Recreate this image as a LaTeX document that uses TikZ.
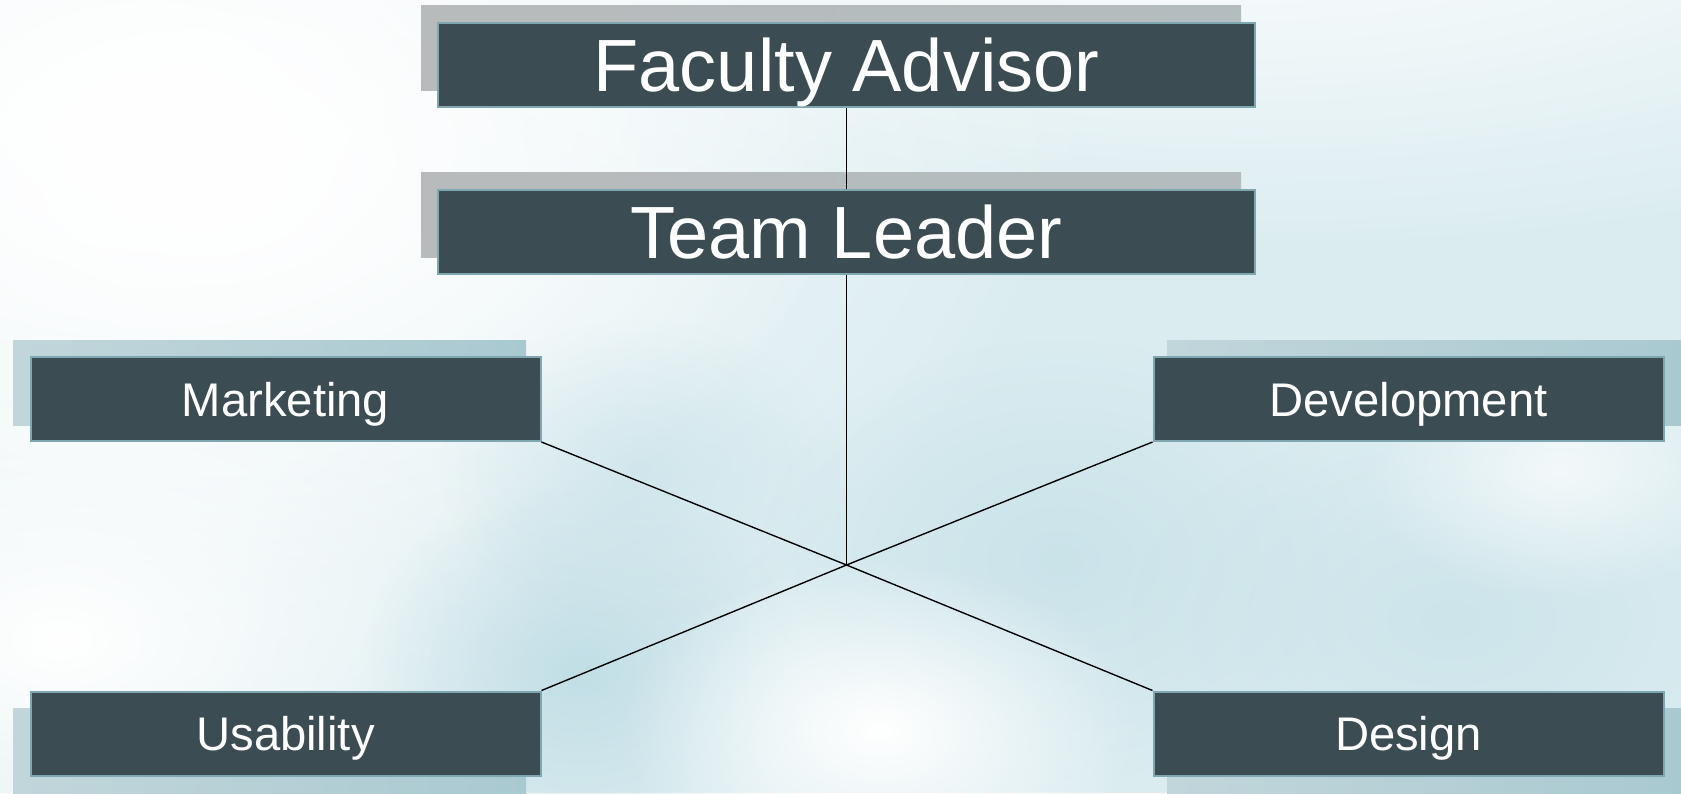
\documentclass[tikz,border=0pt]{standalone}
\usepackage{fontspec}
\setmainfont{Liberation Sans}
\usetikzlibrary{fadings}

\definecolor{bgbase}{HTML}{DAECF0}
\definecolor{bgdeep}{HTML}{BFDDE5}
\definecolor{boxfill}{HTML}{3B4C53}
\definecolor{boxline}{HTML}{7EA7B2}
\definecolor{shadegrayL}{HTML}{B8BBBC}
\definecolor{shadegrayR}{HTML}{B3BCBE}
\definecolor{shadeblueL}{HTML}{C1D6DB}
\definecolor{shadeblueR}{HTML}{A9C9D1}

% soft round spot used to paint the blurred backdrop
\tikzfading[name=softspot, inner color=transparent!0, outer color=transparent!100]

\tikzset{
  orgbox/.style={draw=boxline, line width=1pt, fill=boxfill, text=white,
    inner sep=0pt, text depth=0pt},
  bigbox/.style={orgbox, minimum width=408.5pt, minimum height=42pt,
    text height=26.6pt, font=\fontsize{37}{44}\selectfont},
  smallbox/.style={orgbox, minimum width=255pt, minimum height=42pt,
    text height=17pt, font=\fontsize{23.6}{28}\selectfont},
  topshadow/.style={left color=shadegrayL, right color=shadegrayR},
  sideshadow/.style={left color=shadeblueL, right color=shadeblueR},
  link/.style={black, line width=0.7pt},
  spot/.style={path fading=softspot}
}

\begin{document}
\begin{tikzpicture}[x=0.5pt, y=-0.5pt]
  \useasboundingbox (0,0) rectangle (1681,793);

  % backdrop
  \fill[bgbase] (0,0) rectangle (1681,793);
  \begin{scope}
    \clip (0,0) rectangle (1681,793);
    \fill[white, spot] (1250,-120) ellipse (1100 and 380);
    \fill[white, spot] (150,120) ellipse (950 and 620);
    \fill[white, spot] (200,170) ellipse (650 and 420);
    \fill[white, spot] (60,640) ellipse (520 and 330);
    \fill[bgdeep, spot, opacity=0.9] (580,670) ellipse (220 and 190);
    \fill[bgdeep, spot, opacity=0.6] (1060,560) ellipse (300 and 220);
    \fill[bgdeep, spot, opacity=0.5] (640,470) ellipse (200 and 150);
    \fill[bgdeep, spot, opacity=0.5] (1450,620) ellipse (320 and 200);
    \fill[white, spot] (880,730) ellipse (260 and 170);
    \fill[white, spot, opacity=0.7] (1560,470) ellipse (200 and 130);
  \end{scope}

  % offset backing plates
  \shade[topshadow]  (421,5)    rectangle (1241,90);
  \shade[topshadow]  (421,172)  rectangle (1241,257);
  \shade[sideshadow] (13,340)   rectangle (526,425);
  \shade[sideshadow] (1167,340) rectangle (1681,425);
  \shade[sideshadow] (13,708)   rectangle (526,793);
  \shade[sideshadow] (1167,708) rectangle (1681,793);

  % boxes
  \node[bigbox]   (fa) at (846.5,65)    {Faculty Advisor};
  \node[bigbox]   (tl) at (846.5,231.5) {Team Leader};
  \node[smallbox] (mk) at (285.5,399)   {Marketing};
  \node[smallbox] (dv) at (1408.5,399)  {Development};
  \node[smallbox] (us) at (285.5,733.5) {Usability};
  \node[smallbox] (ds) at (1408.5,733.5){Design};

  % hub where the branches meet
  \coordinate (hub) at (846.5,565);

  % connectors
  \draw[link] (fa.south) -- (tl.north);
  \draw[link] (tl.south) -- (hub);
  \draw[link] (mk.south east) -- (hub);
  \draw[link] (dv.south west) -- (hub);
  \draw[link] (us.north east) -- (hub);
  \draw[link] (ds.north west) -- (hub);
\end{tikzpicture}
\end{document}
